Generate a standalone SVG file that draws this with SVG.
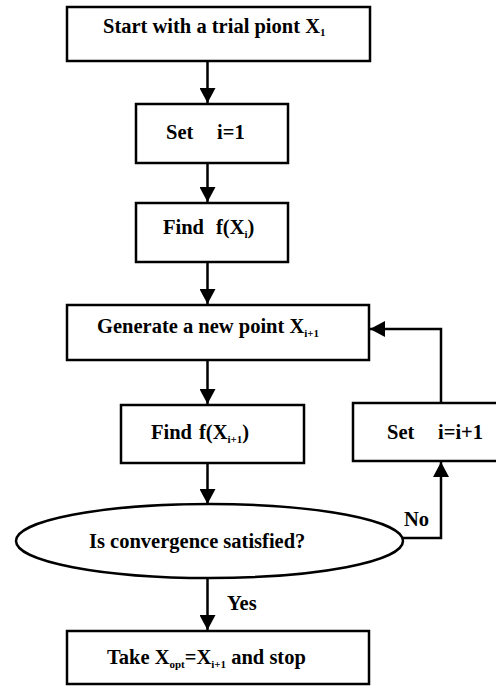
<svg xmlns="http://www.w3.org/2000/svg" width="496" height="686" viewBox="0 0 496 686">
<style>
.box{fill:#fff;stroke:#000;stroke-width:2.5}
.t{font-family:'Liberation Serif','DejaVu Serif','Times New Roman',serif;font-weight:bold;font-size:20.5px;fill:#000}
.sub{font-size:11px}
.c{fill:none;stroke:#000;stroke-width:2.5}
</style>
<defs>
<marker id="ah" markerUnits="userSpaceOnUse" markerWidth="16" markerHeight="16" viewBox="0 0 16 16" refX="15" refY="8" orient="auto">
<path d="M0,0 L15,8 L0,16 Z" fill="#000"/>
</marker>
</defs>
<rect width="496" height="686" fill="#fff"/>
<g id="connectors">
<line class="c" x1="207.5" y1="61" x2="207.5" y2="103" marker-end="url(#ah)"/>
<line class="c" x1="207.5" y1="163" x2="207.5" y2="202" marker-end="url(#ah)"/>
<line class="c" x1="207.5" y1="262" x2="207.5" y2="304" marker-end="url(#ah)"/>
<line class="c" x1="207.5" y1="360" x2="207.5" y2="404" marker-end="url(#ah)"/>
<line class="c" x1="207.5" y1="463" x2="207.5" y2="504" marker-end="url(#ah)"/>
<line class="c" x1="207.5" y1="579" x2="207.5" y2="630" marker-end="url(#ah)"/>
<polyline class="c" points="403,538 441,538 441,462" marker-end="url(#ah)"/>
<polyline class="c" points="441,403 441,329 370,329" marker-end="url(#ah)"/>
<text class="t" x="404" y="526">No</text>
<text class="t" x="227" y="610">Yes</text>
</g>
<g id="start">
<rect class="box" x="67" y="7" width="303" height="54"/>
<text class="t" x="103" y="33">Start with a trial piont X<tspan class="sub" dy="3">1</tspan></text>
</g>
<g id="set1">
<rect class="box" x="136" y="104" width="152" height="59"/>
<text class="t" x="166" y="139">Set<tspan x="217">i=1</tspan></text>
</g>
<g id="find1">
<rect class="box" x="136" y="203" width="152" height="59"/>
<text class="t" x="163" y="234">Find<tspan x="216">f(X</tspan><tspan class="sub" dy="4">i</tspan><tspan dy="-4">)</tspan></text>
</g>
<g id="generate">
<rect class="box" x="67" y="305" width="302" height="55"/>
<text class="t" x="97" y="333">Generate a new point X<tspan class="sub" dy="4">i+1</tspan></text>
</g>
<g id="find2">
<rect class="box" x="121" y="405" width="183" height="58"/>
<text class="t" x="151" y="439">Find<tspan x="199">f(X</tspan><tspan class="sub" dy="4">i+1</tspan><tspan dy="-4">)</tspan></text>
</g>
<g id="setinc">
<rect class="box" x="353" y="403" width="150" height="58"/>
<text class="t" x="387" y="439">Set<tspan x="438">i=i+1</tspan></text>
</g>
<g id="converge">
<ellipse class="box" cx="209.5" cy="541" rx="193.5" ry="37"/>
<text class="t" x="89" y="548">Is convergence satisfied?</text>
</g>
<g id="stop">
<rect class="box" x="67" y="631" width="302" height="53"/>
<text class="t" x="107" y="664">Take X<tspan class="sub" dy="4">opt</tspan><tspan dy="-4">=X</tspan><tspan class="sub" dy="4">i+1</tspan><tspan dy="-4"> and stop</tspan></text>
</g>
</svg>
